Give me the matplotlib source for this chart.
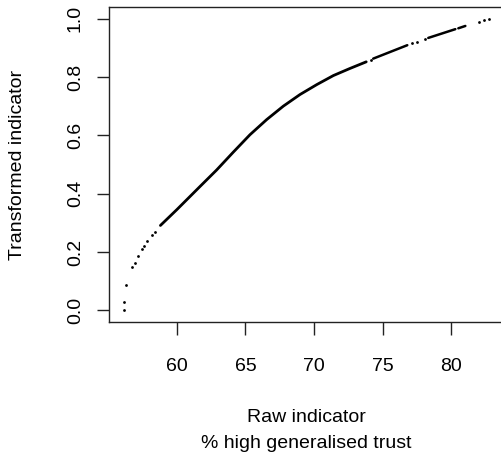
import numpy as np
import matplotlib.pyplot as plt

plt.rcParams['font.family'] = ['Liberation Sans', 'DejaVu Sans']

# sparse points at the low end
low_x = [56.13, 56.15, 56.33, 56.74, 56.93, 57.18, 57.50, 57.61, 57.86, 58.23, 58.39]
low_y = [0.000, 0.028, 0.086, 0.147, 0.164, 0.186, 0.212, 0.220, 0.238, 0.258, 0.268]

# dense run of points (reads as a solid line)
mid_x = [58.81, 60.00, 61.68, 62.90, 64.11, 65.33, 66.55, 67.76, 68.98, 70.20, 71.41, 72.60, 73.80]
mid_y = [0.291, 0.345, 0.424, 0.481, 0.542, 0.602, 0.654, 0.700, 0.740, 0.774, 0.805, 0.829, 0.852]

# upper tail: short runs and single points
runs = [
    ([74.31, 76.79], [0.863, 0.909]),
    ([78.32, 80.29], [0.934, 0.964]),
    ([80.51, 81.02], [0.967, 0.975]),
]
top_x = [74.14, 77.15, 77.52, 78.10, 81.99, 82.36, 82.77]
top_y = [0.860, 0.915, 0.921, 0.930, 0.987, 0.994, 1.000]

xticks = [60, 65, 70, 75, 80]
yticks = [0.0, 0.2, 0.4, 0.6, 0.8, 1.0]

fig = plt.figure(figsize=(5.02, 4.61), dpi=100)
ax = fig.add_axes([109 / 502, 139 / 461, 395 / 502, 315 / 461])

ax.plot(mid_x, mid_y, color='black', lw=2.0, solid_capstyle='round', solid_joinstyle='round')
for rx, ry in runs:
    ax.plot(rx, ry, color='black', lw=1.8, solid_capstyle='round')
ax.plot(low_x + top_x, low_y + top_y, 'o', color='black', ms=2.0, mec='none')

# R style 4% padding around data range
all_x = low_x + mid_x + top_x
xmin, xmax = min(all_x), max(all_x)
dx = (xmax - xmin) * 0.04
ax.set_xlim(xmin - dx, xmax + dx)
ax.set_ylim(-0.04, 1.04)

ax.set_xticks(xticks)
ax.set_xticklabels([str(t) for t in xticks])
ax.set_yticks(yticks)
ax.set_yticklabels(['%.1f' % t for t in yticks], rotation=90, va='center')

ax.tick_params(axis='both', direction='out', length=9, width=1.0, labelsize=14, color='#222222')
ax.tick_params(axis='x', pad=17)
ax.tick_params(axis='y', pad=9)
for s in ax.spines.values():
    s.set_linewidth(1.0)
    s.set_color('#222222')

cx = (109 + 504) / 2 / 502
fig.text(cx, 1 - 417 / 461, 'Raw indicator', ha='center', va='center', fontsize=14)
fig.text(cx, 1 - 443 / 461, '% high generalised trust', ha='center', va='center', fontsize=14)
fig.text(18 / 502, 1 - 165 / 461, 'Transformed indicator', ha='center', va='center',
         rotation=90, fontsize=14)

fig.savefig('out.png', dpi=100)
